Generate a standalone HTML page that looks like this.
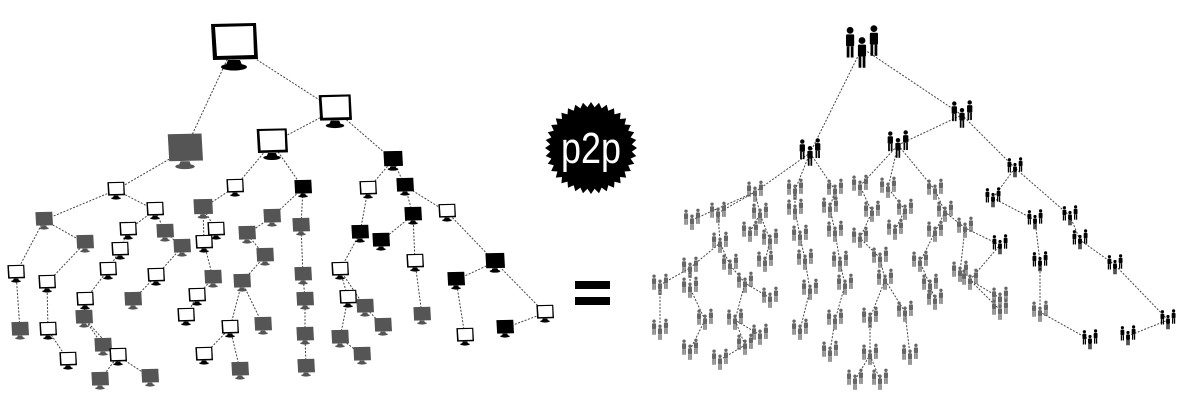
<!DOCTYPE html>
<html><head><meta charset="utf-8"><style>
html,body{margin:0;padding:0;background:#fff;width:1191px;height:417px;overflow:hidden}
svg{display:block}
</style></head><body>
<svg id="s" width="1191" height="417" viewBox="0 0 1191 417" xmlns="http://www.w3.org/2000/svg">
<g id="edges" stroke="#444" stroke-width="1" stroke-dasharray="2,1.5" fill="none"></g>
<g id="nodes"></g>
<g transform="translate(591,148)">
<polygon id="star" fill="#000"/>
<text x="-30" y="15" textLength="60" lengthAdjust="spacingAndGlyphs" font-family="Liberation Sans, sans-serif" font-size="44" fill="#fff">p2p</text>
</g>
<rect x="575" y="281" width="35" height="8" fill="#000"/>
<rect x="575" y="297" width="35" height="8" fill="#000"/>
</svg>
<script>
var NS="http://www.w3.org/2000/svg";
var pts=[];for(var i=0;i<72;i++){var r=i%2?41:46,a=i*Math.PI/36;pts.push((r*Math.cos(a)).toFixed(1)+","+(r*Math.sin(a)).toFixed(1));}
document.getElementById("star").setAttribute("points",pts.join(" "));
var E=document.getElementById("edges"),N=document.getElementById("nodes");
function el(t,a,p){var e=document.createElementNS(NS,t);for(var k in a)e.setAttribute(k,a[k]);p.appendChild(e);return e;}
function mon(x,y,s,t){var g=el("g",{transform:"translate("+x+","+y+") scale("+(s/48)+")"},N);
 var c=t=="g"?"#555":"#000";
 el("path",{d:"M-23,-21 L22,-22 L24,14 L-21,15 Z",fill:c},g);
 if(t=="w")el("path",{d:"M-19,-18 L19,-19 L20,10 L-17,11 Z",fill:"#fff"},g);
 el("path",{d:"M-6,15 L6,15 L8,20 L-8,20 Z",fill:c},g);
 el("ellipse",{cx:0,cy:22,rx:13,ry:3.5,fill:c},g);}
function person(x,y,s,c,g){el("circle",{cx:x,cy:y-s*0.42,r:s*0.1,fill:c},g);
 el("rect",{x:x-s*0.12,y:y-s*0.3,width:s*0.24,height:s*0.35,rx:1,fill:c},g);
 el("rect",{x:x-s*0.1,y:y+s*0.05,width:s*0.08,height:s*0.33,fill:c},g);
 el("rect",{x:x+s*0.02,y:y+s*0.05,width:s*0.08,height:s*0.33,fill:c},g);}
function grp(x,y,s,c){var g=el("g",{},N);person(x-s*0.35,y-s*0.1,s,c,g);person(x+s*0.35,y-s*0.15,s,c,g);person(x,y+s*0.2,s,c,g);}
var L=[[234,45,48,"w"],[335,110,34,"w"],[272,143,32,"w"],[185,150,36,"g"],[393,160,20,"b"],
[116,190,18,"w"],[235,187,18,"w"],[303,188,18,"b"],[368,189,18,"w"],[405,186,18,"b"],
[155,210,18,"w"],[203,208,20,"g"],[272,217,18,"g"],[413,215,18,"b"],[447,212,18,"w"],
[44,220,18,"g"],[128,230,18,"w"],[165,232,18,"g"],[216,230,18,"w"],[247,234,18,"g"],[301,226,18,"g"],[360,233,18,"b"],[381,241,18,"b"],
[85,243,18,"g"],[120,250,18,"w"],[182,247,18,"g"],[204,243,18,"w"],[265,256,18,"g"],[495,262,20,"b"],[415,262,18,"w"],
[16,273,18,"w"],[47,283,18,"w"],[108,270,18,"w"],[156,276,18,"w"],[213,278,18,"g"],[242,282,18,"g"],[303,275,18,"g"],[340,270,18,"w"],[456,280,18,"b"],
[85,300,18,"w"],[133,300,18,"g"],[197,296,18,"w"],[305,300,18,"g"],[348,298,18,"w"],[365,307,18,"g"],[545,313,18,"w"],
[20,330,18,"g"],[48,330,18,"w"],[84,318,18,"g"],[186,316,18,"w"],[230,328,18,"w"],[263,325,18,"g"],[383,326,18,"g"],[422,315,18,"g"],[465,336,18,"w"],[505,328,18,"b"],
[68,360,18,"w"],[103,346,18,"g"],[204,355,18,"w"],[305,335,18,"g"],[340,338,18,"g"],[118,356,18,"w"],
[100,380,18,"g"],[150,377,18,"g"],[240,370,18,"g"],[306,367,18,"g"],[362,355,18,"g"]];
var R=[[862,48,34,"#000"],[810,153,22,"#000"],[898,145,22,"#000"],[962,115,22,"#000"],
[1015,168,16,"#000"],[993,198,16,"#000"],[1035,220,16,"#000"],[1070,216,16,"#000"],[1000,245,16,"#000"],[1040,262,16,"#000"],[1115,265,16,"#000"],[1090,340,16,"#000"],[1128,336,16,"#000"],[1168,320,16,"#000"],[1080,240,16,"#000"],
[755,192],[795,190],[835,190],[860,186],[888,188],[935,190],[692,220],[718,213],[760,214],[795,210],[830,208],[872,212],[905,210],[945,212],[720,243],[750,232],[770,240],[800,236],[835,232],[860,238],[895,230],[935,232],[965,228],[690,268],[730,265],[765,262],[805,260],[840,262],[880,258],[920,262],[960,272],[660,285],[690,288],[745,283],[770,298],[810,290],[845,285],[885,280],[930,285],[970,280],[1000,298],[660,330],[705,320],[735,320],[760,335],[800,330],[835,320],[870,318],[905,312],[935,300],[1000,310],[1040,312],[690,350],[720,360],[745,345],[830,352],[870,355],[910,355],[855,380],[880,380]];
function link(arr){for(var i=1;i<arr.length;i++){var a=arr[i],best=-1,bd=1e9;
 for(var j=0;j<arr.length;j++){var b=arr[j];if(b[1]>a[1]-14)continue;var d=Math.hypot(a[0]-b[0],(a[1]-b[1])*0.8);if(d<bd){bd=d;best=j;}}
 if(best<0){best=0}var b=arr[best];el("line",{x1:a[0],y1:a[1],x2:b[0],y2:b[1]},E);}}
link(L);link(R);
L.forEach(function(n){mon(n[0],n[1],n[2],n[3]);});
R.forEach(function(n){grp(n[0],n[1],n[2]||17,n[3]||"#666");});
</script>
</body></html>
